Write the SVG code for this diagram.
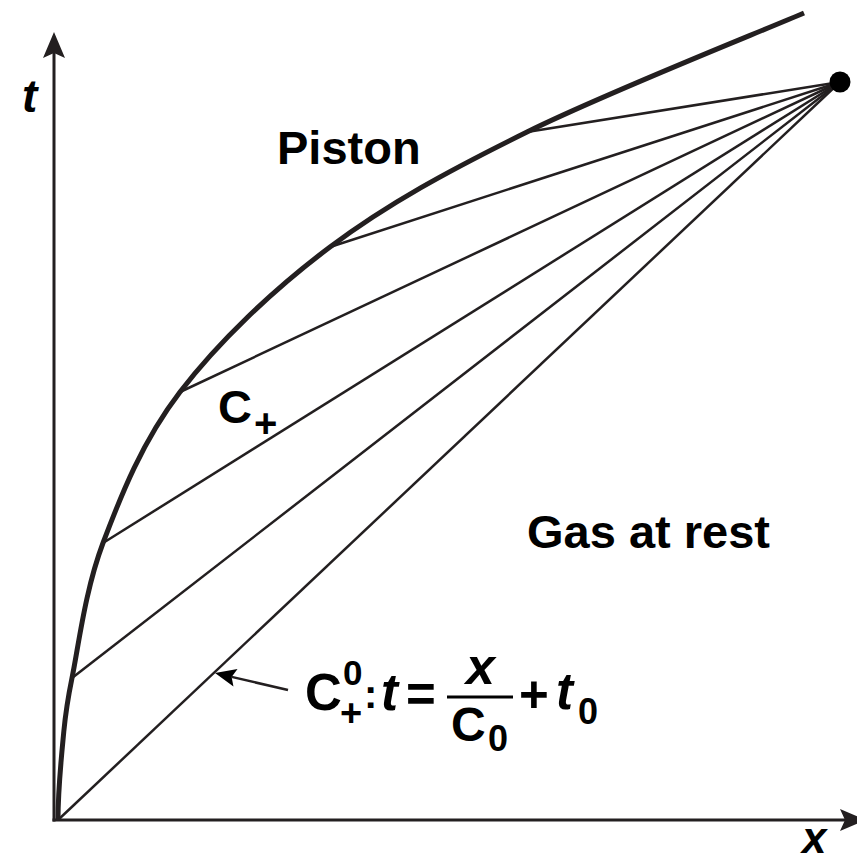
<svg xmlns="http://www.w3.org/2000/svg" width="857" height="864" viewBox="0 0 857 864">
<style>
.txt{font-family:"Liberation Sans",Arial,Helvetica,sans-serif;font-weight:bold;fill:#000}
.it{font-style:italic}
.axis{stroke:#231f20;stroke-width:3;fill:none}
.fan{stroke:#231f20;stroke-width:2.5;fill:none}
.piston{stroke:#231f20;stroke-width:5;fill:none;stroke-linecap:butt}
</style>
<defs>
<marker id="axhead" markerUnits="userSpaceOnUse" viewBox="-6 -12 28 24" markerWidth="28" markerHeight="24" refX="0" refY="0" orient="auto">
<path d="M21,0 L-5,-11 L0,0 L-5,11 Z" fill="#231f20"/>
</marker>
<marker id="smhead" markerUnits="userSpaceOnUse" viewBox="-5 -10 24 20" markerWidth="24" markerHeight="20" refX="0" refY="0" orient="auto">
<path d="M17,0 L-4,-9 L0,0 L-4,9 Z" fill="#000"/>
</marker>
</defs>
<rect width="857" height="864" fill="#fff"/>
<g id="axes">
<line class="axis" x1="54" y1="821.5" x2="54" y2="53" marker-end="url(#axhead)"/>
<line class="axis" x1="52.5" y1="820" x2="845" y2="820" marker-end="url(#axhead)"/>
</g>
<g id="connectors">
<line class="fan" x1="840" y1="82" x2="527" y2="132"/>
<line class="fan" x1="840" y1="82" x2="330" y2="247"/>
<line class="fan" x1="840" y1="82" x2="180" y2="392"/>
<line class="fan" x1="840" y1="82" x2="103" y2="543"/>
<line class="fan" x1="840" y1="82" x2="72" y2="678"/>
<line class="fan" x1="840" y1="82" x2="58" y2="820"/>
<line class="fan" x1="288" y1="690" x2="231.6" y2="676.9" stroke-width="3" marker-end="url(#smhead)"/>
</g>
<g id="piston">
<path class="piston" d="M58,820 C58,793 60.7,763.7 63,740 C65.3,716.3 65.3,710.8 72,678 C78.7,645.2 85,590.7 103,543 C121,495.3 142.2,441.3 180,392 C217.8,342.7 272.2,290.3 330,247 C387.8,203.7 448,171 527,132 C606,93 757.8,32.8 804,13"/>
</g>
<g id="point">
<circle cx="840" cy="82" r="10.5" fill="#000"/>
</g>
<g id="labels">
<text class="txt it" x="22" y="112" font-size="46">t</text>
<text class="txt it" x="802" y="853" font-size="44">x</text>
<text class="txt" x="277" y="164" font-size="47">Piston</text>
<text class="txt" x="527" y="548" font-size="47">Gas at rest</text>
<text class="txt" x="218" y="423" font-size="47">C</text>
<text class="txt" x="254" y="437" font-size="40">+</text>
</g>
<g id="formula">
<text class="txt" x="305" y="710" font-size="51">C</text>
<text class="txt" x="343" y="685" font-size="35">0</text>
<text class="txt" x="340" y="726" font-size="38">+</text>
<text class="txt" x="364" y="708" font-size="40">:</text>
<text class="txt it" x="381" y="710" font-size="51">t</text>
<text class="txt" x="406" y="712" font-size="51">=</text>
<text class="txt it" x="466" y="684" font-size="52">x</text>
<line x1="447" y1="697" x2="513" y2="697" stroke="#000" stroke-width="3"/>
<text class="txt" x="451" y="741" font-size="48">C</text>
<text class="txt" x="488" y="751" font-size="36">0</text>
<text class="txt" x="519" y="712" font-size="51">+</text>
<text class="txt it" x="556" y="709" font-size="51">t</text>
<text class="txt" x="578" y="724" font-size="36">0</text>
</g>
</svg>
